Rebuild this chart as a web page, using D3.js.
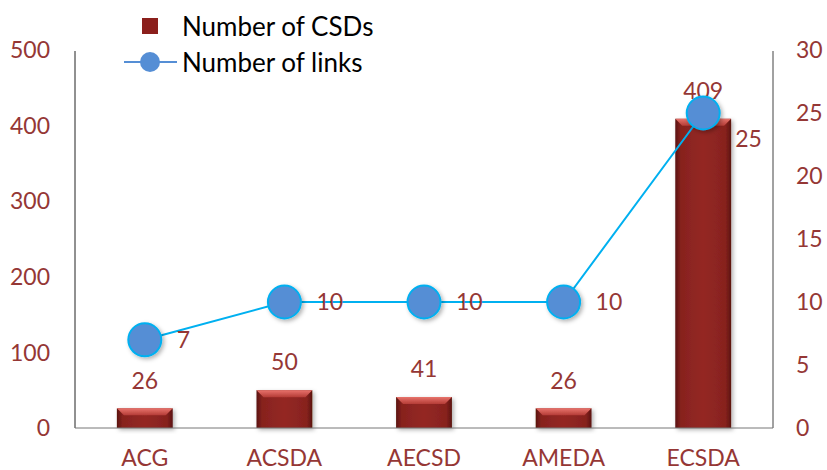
<!DOCTYPE html>
<html><head><meta charset="utf-8">
<script src="https://cdn.jsdelivr.net/npm/d3@7"></script>
<style>body{margin:0;background:#fff}svg{display:block;font-family:Lato,"Open Sans",sans-serif}</style>
</head><body><svg id="c" width="827" height="470"></svg>
<script>
const categories = ["ACG","ACSDA","AECSD","AMEDA","ECSDA"];
const csds = [26,50,41,26,409];
const links = [7,10,10,10,25];
const leftTicks = [0,100,200,300,400,500];
const rightTicks = [0,5,10,15,20,25,30];
const seriesNames = ["Number of CSDs","Number of links"];

const svg = d3.select("#c");
const M = {left:75, right:773, top:50, bottom:428};
const labelColor = "#953735";
const x = d3.scaleBand().domain(categories).range([M.left,M.right]).paddingInner(0.6).paddingOuter(0.3);
const xc = d => x(d)+x.bandwidth()/2;
const yL = d3.scaleLinear().domain([0,500]).range([M.bottom,M.top]);
const yR = d3.scaleLinear().domain([0,30]).range([M.bottom,M.top]);

const defs = svg.append("defs");
const g1 = defs.append("linearGradient").attr("id","barg").attr("x1","0").attr("x2","1").attr("y1","0").attr("y2","0");
[[0,"#5a130f"],[0.1,"#87221e"],[0.5,"#942824"],[0.9,"#87221e"],[1,"#5a130f"]].forEach(s=>g1.append("stop").attr("offset",s[0]).attr("stop-color",s[1]));
const g2 = defs.append("linearGradient").attr("id","topg").attr("x1","0").attr("x2","0").attr("y1","0").attr("y2","1");
[[0,"#e8736c"],[1,"#b43c36"]].forEach(s=>g2.append("stop").attr("offset",s[0]).attr("stop-color",s[1]));
const f = defs.append("filter").attr("id","sh").attr("x","-30%").attr("y","-30%").attr("width","160%").attr("height","160%");
f.append("feDropShadow").attr("dx",2).attr("dy",2).attr("stdDeviation",2).attr("flood-color","#000").attr("flood-opacity",0.3);

// axes lines
svg.append("line").attr("x1",M.left).attr("x2",M.left).attr("y1",M.top+1).attr("y2",M.bottom).attr("stroke","#222").attr("stroke-width",1);
svg.append("line").attr("x1",M.right).attr("x2",M.right).attr("y1",M.top+1).attr("y2",M.bottom).attr("stroke","#444").attr("stroke-width",1);

// bars
const bw = x.bandwidth();
const bars = svg.append("g").selectAll("g").data(categories).join("g").attr("filter","url(#sh)");
bars.append("rect").attr("x",d=>x(d)).attr("y",(d,i)=>yL(csds[i])).attr("width",bw).attr("height",(d,i)=>M.bottom-yL(csds[i])).attr("fill","url(#barg)");
bars.append("path").attr("d",(d,i)=>{
  const x0=x(d), y0=yL(csds[i]), b=Math.min(7,(M.bottom-y0)/2.5);
  return `M${x0},${y0}L${x0+bw},${y0}L${x0+bw-b},${y0+b}L${x0+b},${y0+b}Z`;
}).attr("fill","url(#topg)");

// bottom axis line
svg.append("line").attr("x1",M.left).attr("x2",M.right).attr("y1",M.bottom).attr("y2",M.bottom).attr("stroke","#777").attr("stroke-width",1);

// axis labels
svg.append("g").selectAll("text").data(leftTicks).join("text").attr("x",50).attr("y",d=>yL(d)).attr("dy","0.36em").attr("text-anchor","end").attr("fill",labelColor).attr("font-size",23).text(d=>d);
svg.append("g").selectAll("text").data(rightTicks).join("text").attr("x",796).attr("y",d=>yR(d)).attr("dy","0.36em").attr("text-anchor","start").attr("fill",labelColor).attr("font-size",23).text(d=>d);
svg.append("g").selectAll("text").data(categories).join("text").attr("x",d=>xc(d)).attr("y",M.bottom+30).attr("dy","0.36em").attr("text-anchor","middle").attr("fill",labelColor).attr("font-size",23).text(d=>d);

// bar value labels
svg.append("g").selectAll("text").data(categories).join("text").attr("x",d=>xc(d)).attr("y",(d,i)=>yL(csds[i])-28).attr("dy","0.36em").attr("text-anchor","middle").attr("fill",labelColor).attr("font-size",23).text((d,i)=>csds[i]);

// line
const line = d3.line().x(d=>xc(d)).y((d,i)=>yR(links[i]));
svg.append("path").datum(categories).attr("d",line).attr("fill","none").attr("stroke","#00b0f0").attr("stroke-width",2);
svg.append("g").selectAll("circle").data(categories).join("circle").attr("cx",d=>xc(d)).attr("cy",(d,i)=>yR(links[i])).attr("r",16.5).attr("fill","#558ed5").attr("stroke","#00b0f0").attr("stroke-width",2).attr("filter","url(#sh)");
svg.append("g").selectAll("text").data(categories).join("text").attr("x",d=>xc(d)+32).attr("y",(d,i)=>yR(links[i])+(i===categories.length-1?26:0)).attr("dy","0.36em").attr("text-anchor","start").attr("fill",labelColor).attr("font-size",23).text((d,i)=>links[i]);

// legend
const lg = svg.append("g");
lg.append("rect").attr("x",142).attr("y",18).attr("width",16).attr("height",16).attr("fill","#8b1f1c");
lg.append("text").attr("x",182).attr("y",27).attr("dy","0.36em").attr("font-size",26).attr("fill","#000").text(seriesNames[0]);
lg.append("line").attr("x1",124).attr("x2",177).attr("y1",62).attr("y2",62).attr("stroke","#558ed5").attr("stroke-width",2);
lg.append("circle").attr("cx",150).attr("cy",62).attr("r",10).attr("fill","#558ed5");
lg.append("text").attr("x",182).attr("y",63).attr("dy","0.36em").attr("font-size",26).attr("fill","#000").text(seriesNames[1]);
</script></body></html>
